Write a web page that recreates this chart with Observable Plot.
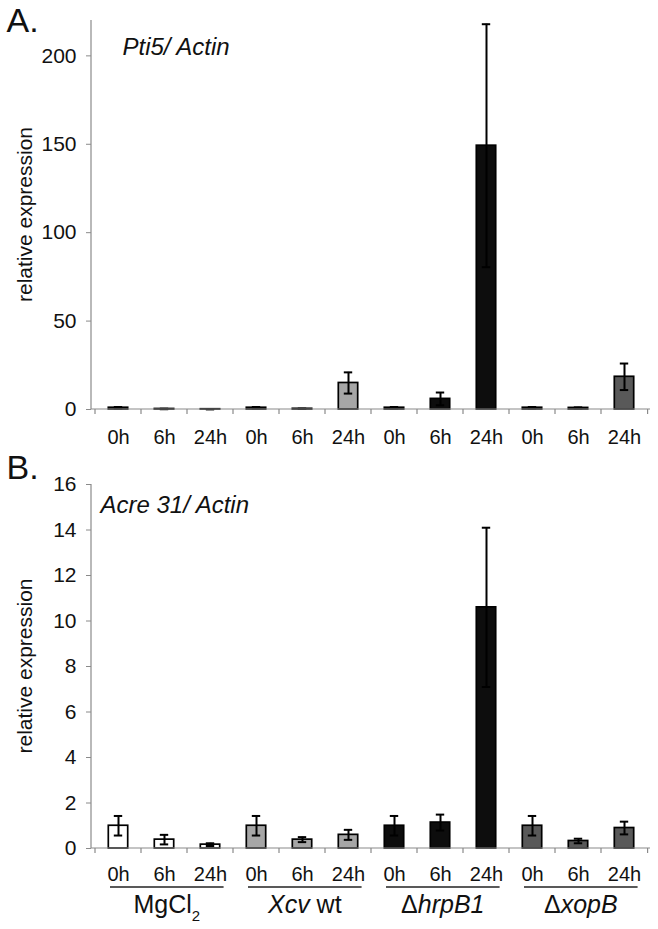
<!DOCTYPE html>
<html><head><meta charset="utf-8">
<script src="https://cdn.jsdelivr.net/npm/d3@7"></script>
<script src="https://cdn.jsdelivr.net/npm/@observablehq/plot@0.6"></script>
<style>
body{margin:0;background:#fff;}
#chart{width:658px;height:929px;}
#chart svg{display:block;}
</style></head><body><div id="chart"></div>
<script>
// ---- data ----
const groups = ["MgCl2", "Xcv wt", "ΔhrpB1", "ΔxopB"];
const times = ["0h", "6h", "24h"];
const groupColors = ["#ffffff", "#a6a6a6", "#0d0d0d", "#595959"];
const groupLabelParts = [
  [{t: "MgCl"}, {t: "2", sub: true}],
  [{t: "Xcv", it: true}, {t: " wt"}],
  [{t: "Δ"}, {t: "hrpB1", it: true}],
  [{t: "Δ"}, {t: "xopB", it: true}]
];
const pti5Values = [1.0, 0.3, 0.15, 1.0, 0.4, 15.0, 1.0, 6.0, 149.2, 1.0, 0.9, 18.5];
const pti5Errors = [0.4, 0.15, 0.05, 0.4, 0.1, 6.0, 0.4, 3.6, 68.7, 0.4, 0.3, 7.5];
const acre31Values = [1.0, 0.39, 0.17, 1.0, 0.39, 0.6, 1.0, 1.14, 10.6, 1.0, 0.33, 0.9];
const acre31Errors = [0.43, 0.21, 0.06, 0.43, 0.11, 0.22, 0.43, 0.35, 3.5, 0.43, 0.1, 0.28];
const pti5Ticks = [0, 50, 100, 150, 200];
const acre31Ticks = [0, 2, 4, 6, 8, 10, 12, 14, 16];
const yLabel = "relative expression";

const keys = [];
groups.forEach(g => times.forEach(t => keys.push(g + "|" + t)));
function rowsFor(values, errors) {
  return keys.map((k, i) => ({key: k, group: groups[Math.floor(i / 3)], time: times[i % 3], value: values[i], err: errors[i]}));
}

const FONT = "'Liberation Sans', Arial, Helvetica, sans-serif";
const AXIS = "#8a8a8a";

function decor(showGroups) {
  return (index, scales, values, dims) => {
    const {x, y} = scales;
    const {width, marginLeft, marginRight, marginTop} = dims;
    const left = marginLeft, right = width - marginRight;
    const bw = (right - left) / keys.length;
    const y0 = y(0);
    const g = d3.create("svg:g");
    g.append("line").attr("x1", left).attr("x2", left).attr("y1", marginTop).attr("y2", y0)
      .attr("stroke", AXIS).attr("stroke-width", 1.2);
    g.append("line").attr("x1", left).attr("x2", right).attr("y1", y0).attr("y2", y0)
      .attr("stroke", AXIS).attr("stroke-width", 1.2);
    for (let k = 0; k <= keys.length; k++) {
      const bx = k < keys.length ? x(keys[k]) : x(keys[keys.length - 1]) + bw;
      g.append("line").attr("x1", bx).attr("x2", bx).attr("y1", y0).attr("y2", y0 + 5)
        .attr("stroke", AXIS).attr("stroke-width", 1.2);
    }
    g.append("text").attr("transform", `translate(32,${(marginTop + y0) / 2}) rotate(-90)`)
      .attr("text-anchor", "middle").attr("font-size", 21).attr("fill", "#111").text(yLabel);
    if (showGroups) {
      groups.forEach((grp, gi) => {
        const xs = x(keys[gi * 3]) + 15;
        const xe = x(keys[gi * 3 + 2]) + bw - 10;
        g.append("line").attr("x1", xs).attr("x2", xe).attr("y1", y0 + 39).attr("y2", y0 + 39)
          .attr("stroke", "#222").attr("stroke-width", 1.3);
        const t = g.append("text").attr("x", (xs + xe) / 2).attr("y", y0 + 65)
          .attr("text-anchor", "middle").attr("font-size", 25).attr("fill", "#111");
        groupLabelParts[gi].forEach(p => {
          const ts = t.append("tspan").text(p.t);
          if (p.it) ts.attr("font-style", "italic");
          if (p.sub) ts.attr("font-size", 15).attr("dy", "0.5em");
        });
      });
    }
    return g.node();
  };
}

function panel({values, errors, ticks, yMax, height, marginTop, marginBottom, letter, letterDy, gene, geneDx, geneDy, showGroups, labelPad}) {
  const rows = rowsFor(values, errors);
  return Plot.plot({
    width: 658, height, marginLeft: 91, marginRight: 8, marginTop, marginBottom,
    style: {fontFamily: FONT, fontSize: "20px", color: "#111", background: "white", overflow: "visible"},
    x: {domain: keys, padding: 0, axis: null},
    y: {domain: [0, yMax], axis: null},
    color: {type: "ordinal", domain: groups, range: groupColors},
    marks: [
      Plot.barY(rows, {x: "key", y: "value", fill: "group", stroke: "#000", strokeWidth: 1.7, insetLeft: 13.3, insetRight: 13.3}),
      Plot.ruleX(rows, {x: "key", y1: d => d.value - d.err, y2: d => d.value + d.err, stroke: "#000", strokeWidth: 2}),
      Plot.tickY(rows, {x: "key", y: d => d.value + d.err, stroke: "#000", strokeWidth: 2, insetLeft: 18.8, insetRight: 18.8}),
      Plot.tickY(rows, {x: "key", y: d => d.value - d.err, stroke: "#000", strokeWidth: 2, insetLeft: 18.8, insetRight: 18.8}),
      Plot.axisY({ticks, tickSize: 5, tickFormat: () => "", stroke: AXIS, label: null}),
      Plot.text(ticks, {y: d => d, text: d => String(d), frameAnchor: "left", dx: -15, textAnchor: "end", fontSize: 21, fill: "#111"}),
      Plot.text(rows, {x: "key", text: "time", frameAnchor: "bottom", dy: labelPad, lineAnchor: "top", fontSize: 20, fill: "#111"}),
      decor(showGroups),
      Plot.text([gene], {frameAnchor: "top-left", dx: geneDx, dy: geneDy, textAnchor: "start", lineAnchor: "top", fontSize: 24, fontStyle: "italic", fill: "#111"}),
      Plot.text([letter], {frameAnchor: "top-left", dx: -85, dy: letterDy, textAnchor: "start", lineAnchor: "top", fontSize: 34, fill: "#111"})
    ]
  });
}

const chart = document.getElementById("chart");
chart.append(panel({values: pti5Values, errors: pti5Errors, ticks: pti5Ticks, yMax: 220, height: 447, marginTop: 20, marginBottom: 38,
  letter: "A.", letterDy: -13, gene: "Pti5/ Actin", geneDx: 31, geneDy: 17, showGroups: false, labelPad: 20}));
chart.append(panel({values: acre31Values, errors: acre31Errors, ticks: acre31Ticks, yMax: 16, height: 482, marginTop: 37, marginBottom: 81,
  letter: "B.", letterDy: -30, gene: "Acre 31/ Actin", geneDx: 9, geneDy: 11, showGroups: true, labelPad: 18}));
</script></body></html>
